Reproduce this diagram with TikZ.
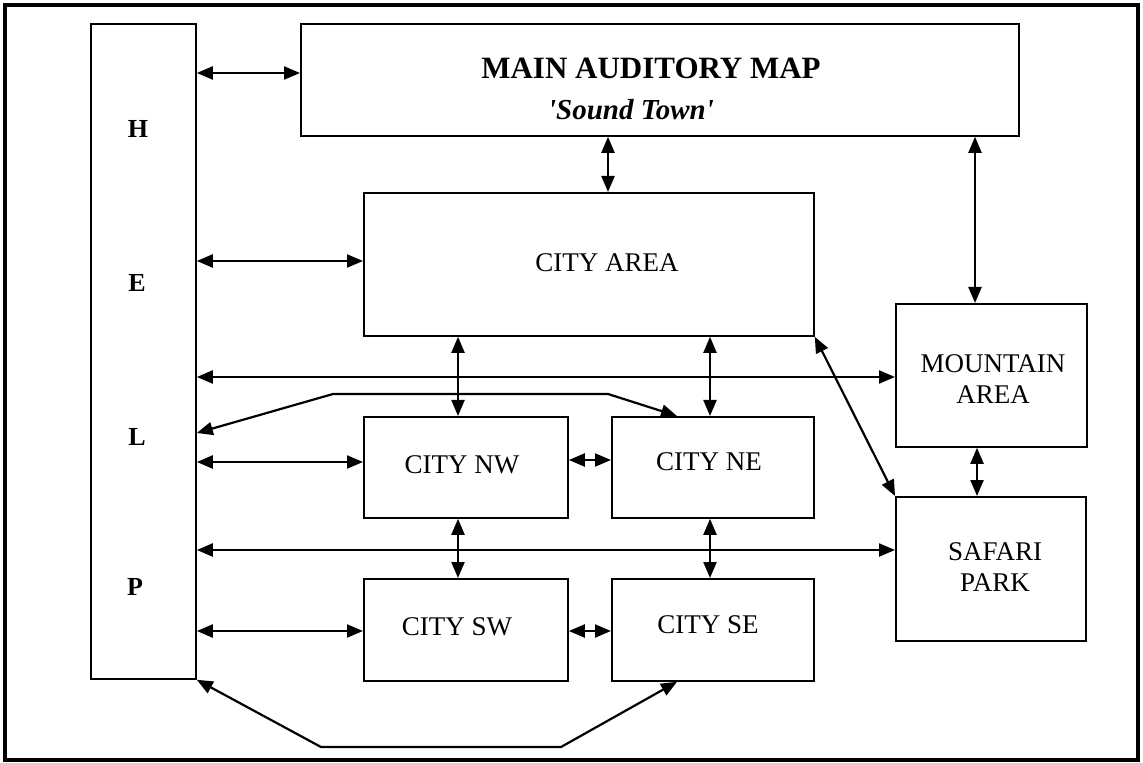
\documentclass[tikz,border=0pt]{standalone}
\usepackage{fontspec}
\setmainfont{Liberation Serif}
\usetikzlibrary{arrows.meta}
\begin{document}
\begin{tikzpicture}[x=0.5pt,y=-0.5pt,
  box/.style={draw, line width=0.9pt, inner sep=0pt, anchor=north west},
  dbl/.style={line width=1.1pt, {Triangle[length=8pt,width=6.5pt]}-{Triangle[length=8pt,width=6.5pt]}},
  lbl/.style={font=\fontsize{13.5pt}{15.5pt}\selectfont, align=center, inner sep=0pt},
  hl/.style={font=\fontsize{13pt}{15pt}\selectfont\bfseries, inner sep=0pt}]
\useasboundingbox (0,0) rectangle (1143,763);
\fill[white] (0,0) rectangle (1143,763);
\draw[line width=1.6pt] (5,5) rectangle (1138,760);
% boxes
\node[box, minimum width=52.5pt, minimum height=327.5pt] (help) at (90,23) {};
\node[box, minimum width=359pt, minimum height=56pt] (main) at (300,23) {};
\node[box, minimum width=225pt, minimum height=71.5pt] (area) at (363,192) {};
\node[box, minimum width=102pt, minimum height=50.5pt] (nw) at (363,416) {};
\node[box, minimum width=101pt, minimum height=50.5pt] (ne) at (611,416) {};
\node[box, minimum width=102pt, minimum height=51pt] (sw) at (363,578) {};
\node[box, minimum width=101pt, minimum height=51pt] (se) at (611,578) {};
\node[box, minimum width=95.5pt, minimum height=71.5pt] (mtn) at (895,303) {};
\node[box, minimum width=95pt, minimum height=72pt] (safari) at (895,496) {};
% labels
\node[inner sep=0pt, font=\fontsize{15.5pt}{18pt}\selectfont\bfseries] (tmain) at (651,68) {MAIN AUDITORY MAP};
\node[inner sep=0pt, font=\fontsize{14.5pt}{17pt}\selectfont\bfseries\itshape] (tsound) at (631,110) {\textquotesingle Sound Town\textquotesingle};
\node[lbl] (tarea) at (607,263) {CITY AREA};
\node[lbl] (tnw) at (462,465) {CITY NW};
\node[lbl] (tne) at (709,462) {CITY NE};
\node[lbl] (tsw) at (457,627) {CITY SW};
\node[lbl] (tse) at (708,625) {CITY SE};
\node[lbl] (tmtn) at (993,379) {MOUNTAIN\\AREA};
\node[lbl] (tsaf) at (995,567) {SAFARI\\PARK};
\node[hl] (lh) at (138,129) {H};
\node[hl] (le) at (137,283) {E};
\node[hl] (ll) at (137,437) {L};
\node[hl] (lp) at (135,587) {P};
% connectors
\draw[dbl] (help.east |- 0,73) -- (main.west |- 0,73);
\draw[dbl] (main.south -| 608,0) -- (area.north -| 608,0);
\draw[dbl] (main.south -| 975,0) -- (mtn.north -| 975,0);
\draw[dbl] (help.east |- 0,261) -- (area.west |- 0,261);
\draw[dbl] (help.east |- 0,377) -- (mtn.west |- 0,377);
\draw[dbl] (help.east |- 0,433) -- (333,394) -- (608,394) -- (ne.north -| 677,0);
\draw[dbl] (help.east |- 0,462) -- (nw.west |- 0,462);
\draw[dbl] (area.south -| 458,0) -- (nw.north -| 458,0);
\draw[dbl] (area.south -| 710,0) -- (ne.north -| 710,0);
\draw[dbl] (area.south east) -- (safari.north west);
\draw[dbl] (nw.east |- 0,460) -- (ne.west |- 0,460);
\draw[dbl] (mtn.south -| 977,0) -- (safari.north -| 977,0);
\draw[dbl] (help.east |- 0,550) -- (safari.west |- 0,550);
\draw[dbl] (nw.south -| 458,0) -- (sw.north -| 458,0);
\draw[dbl] (ne.south -| 710,0) -- (se.north -| 710,0);
\draw[dbl] (help.east |- 0,631) -- (sw.west |- 0,631);
\draw[dbl] (sw.east |- 0,631) -- (se.west |- 0,631);
\draw[dbl] (help.south east) -- (321,747) -- (561,747) -- (se.south -| 677,0);
\end{tikzpicture}
\end{document}
